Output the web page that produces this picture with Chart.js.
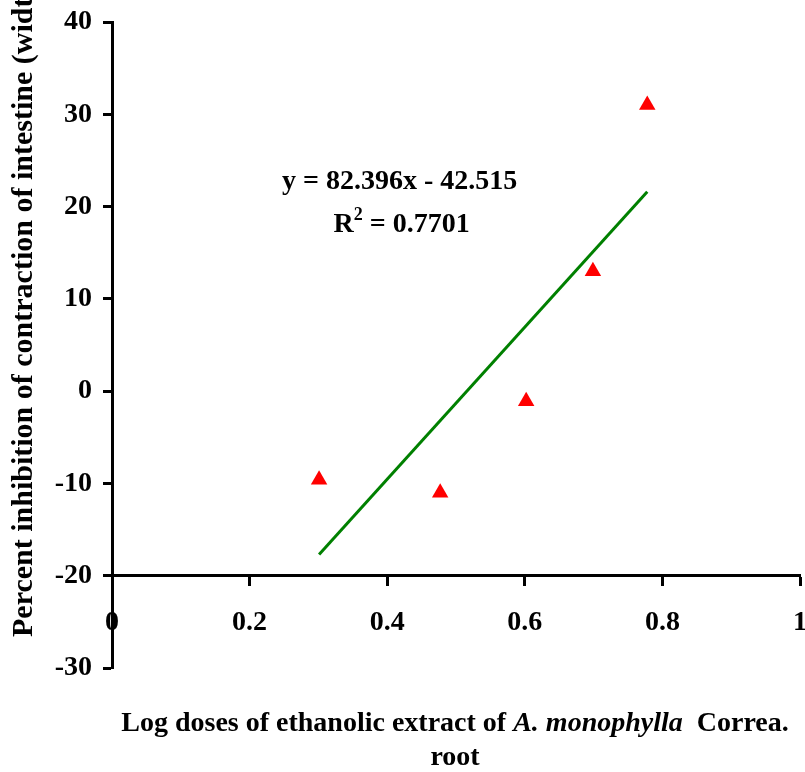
<!DOCTYPE html>
<html>
<head>
<meta charset="utf-8">
<script src="https://cdn.jsdelivr.net/npm/chart.js@4.4.1/dist/chart.umd.min.js"></script>
<style>
  html, body { margin: 0; padding: 0; background: #fff; }
</style>
</head>
<body>
<canvas id="doseChart" width="805" height="772"></canvas>
<script>
// data
const logDoses = [0.301, 0.477, 0.602, 0.699, 0.778];
const inhibition = [-9.6, -11.0, -1.1, 13.0, 31.0];
const trendX = [0.301, 0.778];
const trendY = [-17.7, 21.6];
const xTicks = [0, 0.2, 0.4, 0.6, 0.8, 1];
const yTicks = [-30, -20, -10, 0, 10, 20, 30, 40];
const equationText = "y = 82.396x - 42.515";
const r2Value = "0.7701";
const yTitle = "Percent inhibition of contraction of intestine (width)";

const serif = '"Liberation Serif", "Times New Roman", serif';

// draws the axis titles and the trendline equation
const textPlugin = {
  id: "figureTexts",
  afterDraw(chart) {
    const ctx = chart.ctx;
    const xs = chart.scales.x, ys = chart.scales.y;
    ctx.save();
    ctx.fillStyle = "#000";
    ctx.textBaseline = "alphabetic";

    // equation
    ctx.font = "bold 28px " + serif;
    ctx.textAlign = "center";
    ctx.fillText(equationText, xs.getPixelForValue(0.418), ys.getPixelForValue(21.9));

    // R squared with superscript
    ctx.textAlign = "left";
    const rx = xs.getPixelForValue(0.421), ry = ys.getPixelForValue(17.2);
    const rPart = "R", rest = " = " + r2Value;
    ctx.font = "bold 28px " + serif;
    const wR = ctx.measureText(rPart).width;
    const wRest = ctx.measureText(rest).width;
    ctx.font = "bold 18px " + serif;
    const wSup = ctx.measureText("2").width;
    let sx = rx - (wR + wSup + wRest) / 2;
    ctx.font = "bold 28px " + serif;
    ctx.fillText(rPart, sx, ry);
    ctx.font = "bold 18px " + serif;
    ctx.fillText("2", sx + wR, ry - 12);
    ctx.font = "bold 28px " + serif;
    ctx.fillText(rest, sx + wR + wSup, ry);

    // x title, mixed upright and italic
    const parts = [
      ["Log doses of ethanolic extract of ", "bold 28px " + serif],
      ["A. monophylla", "italic bold 28px " + serif],
      ["  Correa.", "bold 28px " + serif],
    ];
    let total = 0;
    parts.forEach(p => { ctx.font = p[1]; total += ctx.measureText(p[0]).width; });
    let px = 455 - total / 2;
    parts.forEach(p => {
      ctx.font = p[1];
      ctx.fillText(p[0], px, 731);
      px += ctx.measureText(p[0]).width;
    });
    ctx.font = "bold 28px " + serif;
    ctx.textAlign = "center";
    ctx.fillText("root", 455, 765);

    // y title, rotated, runs off the top like the original
    ctx.translate(32, 637);
    ctx.rotate(-Math.PI / 2);
    ctx.textAlign = "left";
    ctx.font = "bold 30px " + serif;
    ctx.fillText(yTitle, 0, 0);
    ctx.restore();
  }
};

// keep the plot box fixed, no extra room for edge labels
function fixPadding(scale) {
  scale.paddingLeft = 0;
  scale.paddingRight = 0;
  scale.paddingTop = 0;
  scale.paddingBottom = 0;
}

const ctx = document.getElementById("doseChart").getContext("2d");
new Chart(ctx, {
  type: "scatter",
  data: {
    datasets: [
      {
        label: "Inhibition",
        data: logDoses.map((x, i) => ({ x: x, y: inhibition[i] })),
        pointStyle: "triangle",
        pointRadius: 9.5,
        pointHoverRadius: 9.5,
        backgroundColor: "#ff0000",
        borderColor: "#ff0000",
        borderWidth: 0,
      },
      {
        label: "Linear trend",
        type: "line",
        data: trendX.map((x, i) => ({ x: x, y: trendY[i] })),
        borderColor: "#008000",
        borderWidth: 3,
        pointRadius: 0,
        fill: false,
      },
    ],
  },
  options: {
    responsive: false,
    animation: false,
    layout: { autoPadding: false, padding: { top: 22, right: 5, bottom: 104, left: 0 } },
    plugins: {
      legend: { display: false },
      tooltip: { enabled: false },
    },
    scales: {
      x: {
        type: "linear",
        min: 0,
        max: 1,
        position: { y: -20 },
        afterFit: (scale) => { scale.height = 0; fixPadding(scale); },
        afterBuildTicks: (scale) => { scale.ticks = xTicks.map(v => ({ value: v })); },
        grid: {
          display: true,
          drawOnChartArea: false,
          drawTicks: true,
          tickLength: 9,
          tickWidth: 3,
          tickColor: "#000",
        },
        border: { display: true, color: "#000", width: 3 },
        ticks: {
          color: "#000",
          padding: 21,
          maxRotation: 0,
          font: { family: serif, size: 28, weight: "bold" },
          callback: (v) => String(v),
        },
      },
      y: {
        type: "linear",
        min: -30,
        max: 40,
        afterFit: (scale) => { scale.width = 112; fixPadding(scale); },
        afterBuildTicks: (scale) => { scale.ticks = yTicks.map(v => ({ value: v })); },
        grid: {
          display: true,
          drawOnChartArea: false,
          drawTicks: true,
          tickLength: 9,
          tickWidth: 3,
          tickColor: "#000",
        },
        border: { display: true, color: "#000", width: 3 },
        ticks: {
          color: "#000",
          padding: 11,
          font: { family: serif, size: 28, weight: "bold" },
          callback: (v) => String(v),
        },
      },
    },
  },
  plugins: [textPlugin],
});
</script>
</body>
</html>
